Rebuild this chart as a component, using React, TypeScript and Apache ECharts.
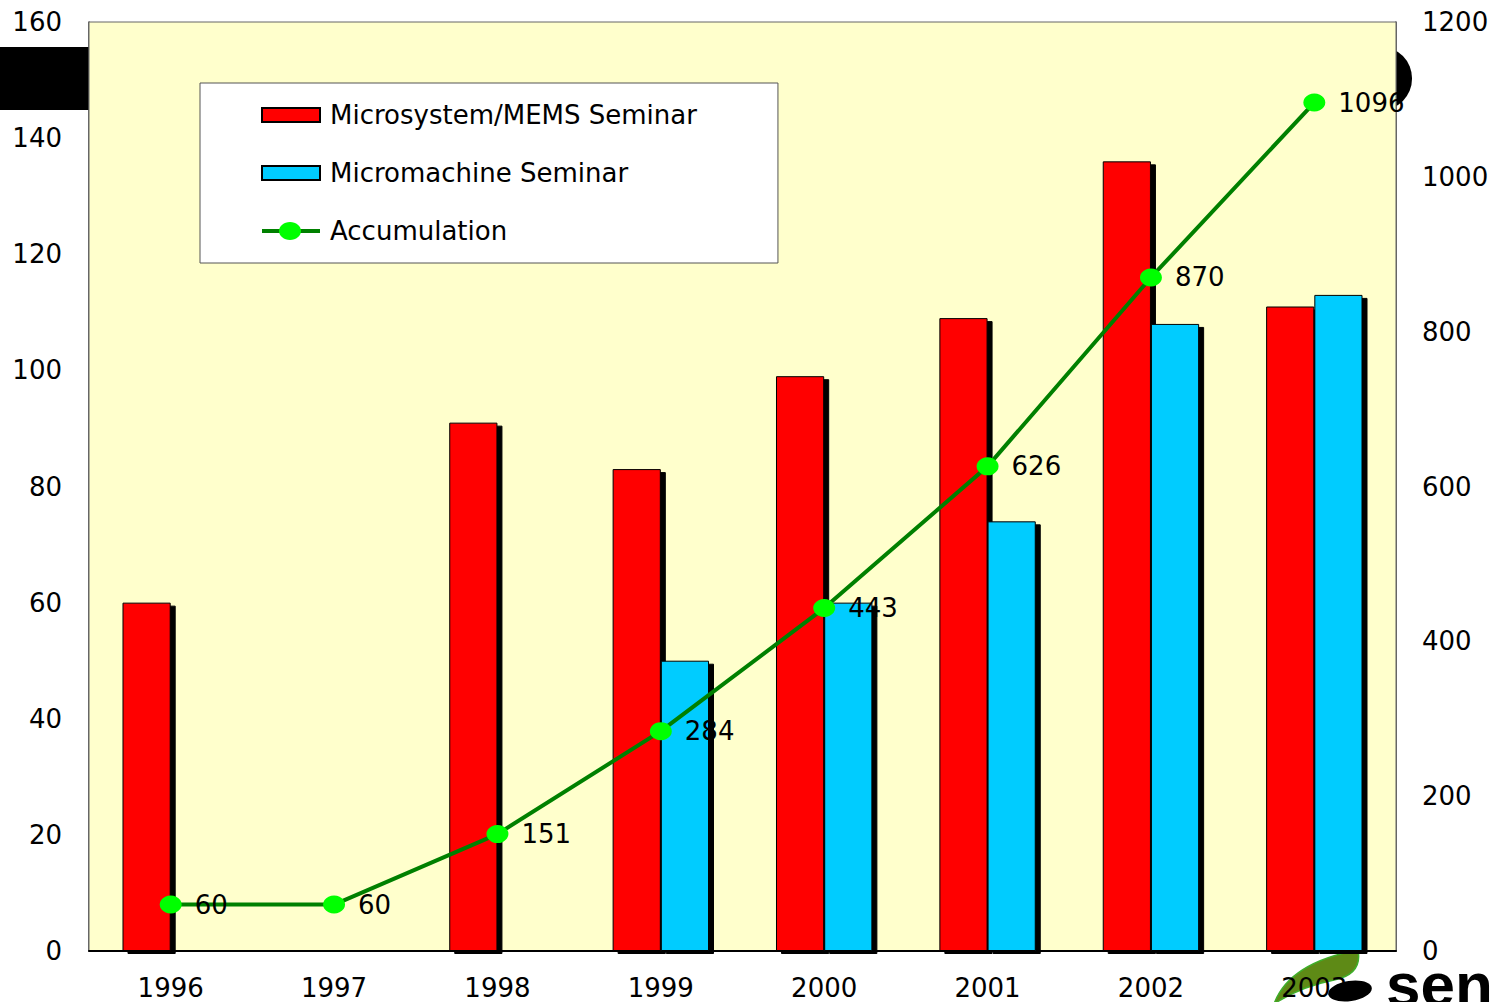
import React, { useEffect, useRef } from "react";
import * as echarts from "echarts";

const years = ["1996", "1997", "1998", "1999", "2000", "2001", "2002", "2003"];
const memsSeminar = [60, null, 91, 83, 99, 109, 136, 111];
const micromachineSeminar = [null, null, null, 50, 60, 74, 108, 113];
const accumulation = [60, 60, 151, 284, 443, 626, 870, 1096];

const seriesNames = ["Microsystem/MEMS Seminar", "Micromachine Seminar", "Accumulation"];

echarts.graphic.registerShape(
  "swoosh",
  echarts.graphic.extendPath(
    "M0,54 C8,32 30,10 84,0 C87,16 80,26 60,30 C40,34 18,42 0,54 Z",
    {}
  )
);

const FONT = "DejaVu Sans, sans-serif";
const FS = 26;

export default function App() {
  const ref = useRef<HTMLDivElement>(null);
  useEffect(() => {
    if (!ref.current) return;
    const chart = echarts.init(ref.current, null, { renderer: "svg" });
    const barStyle = (color: string) => ({
      color,
      borderColor: "#000",
      borderWidth: 1,
      shadowColor: "#000",
      shadowBlur: 0,
      shadowOffsetX: 5,
      shadowOffsetY: 3,
    });
    chart.setOption({
      animation: false,
      backgroundColor: "#ffffff",
      textStyle: { fontFamily: FONT },
      grid: {
        left: 89,
        right: 101,
        top: 22,
        bottom: 51,
        show: true,
        backgroundColor: "#FFFFCC",
        borderColor: "#666",
        borderWidth: 1,
        z: 2,
      },
      legend: {
        orient: "vertical",
        left: 200,
        top: 83,
        padding: [19, 81, 19, 60],
        backgroundColor: "#ffffff",
        borderColor: "#555",
        borderWidth: 1,
        itemWidth: 58,
        itemHeight: 14,
        itemGap: 32,
        data: [
          { name: seriesNames[0], icon: "rect" },
          { name: seriesNames[1], icon: "rect" },
          {
            name: seriesNames[2],
            lineStyle: { width: 4, color: "#008000" },
            itemStyle: { color: "#00FF00" },
          },
        ],
        textStyle: {
          fontSize: FS,
          color: "#000",
          fontFamily: FONT,
          padding: [0, 0, 0, 5],
        },
      },
      xAxis: {
        type: "category",
        data: years,
        axisLine: { lineStyle: { color: "#000", width: 2 } },
        axisTick: { inside: true, length: 8, alignWithLabel: false, lineStyle: { color: "#444" } },
        axisLabel: { fontSize: FS, color: "#000", margin: 24, fontFamily: FONT },
        z: 3,
      },
      yAxis: [
        {
          type: "value",
          min: 0,
          max: 160,
          interval: 20,
          axisLine: { show: true, lineStyle: { color: "#333", width: 1.5 } },
          axisTick: { show: true, inside: true, length: 10, lineStyle: { color: "#333" } },
          splitLine: { show: false },
          axisLabel: { fontSize: FS, color: "#000", margin: 27, fontFamily: FONT },
        },
        {
          type: "value",
          min: 0,
          max: 1200,
          interval: 200,
          position: "right",
          axisLine: { show: true, lineStyle: { color: "#333", width: 1.5 } },
          axisTick: { show: true, inside: true, length: 10, lineStyle: { color: "#333" } },
          splitLine: { show: false },
          axisLabel: {
            fontSize: FS,
            color: "#000",
            margin: 26,
            fontFamily: FONT,
            formatter: (v: number) => String(v),
          },
        },
      ],
      series: [
        {
          name: seriesNames[0],
          type: "bar",
          data: memsSeminar,
          barGap: "0%",
          barCategoryGap: "41%",
          itemStyle: barStyle("#FF0000"),
          z: 3,
        },
        {
          name: seriesNames[1],
          type: "bar",
          data: micromachineSeminar,
          barGap: "0%",
          barCategoryGap: "41%",
          itemStyle: barStyle("#00CCFF"),
          z: 3,
        },
        {
          name: seriesNames[2],
          type: "line",
          yAxisIndex: 1,
          data: accumulation,
          smooth: false,
          symbol: "circle",
          symbolSize: [22, 18],
          lineStyle: { color: "#008000", width: 4 },
          itemStyle: { color: "#00FF00", borderWidth: 0 },
          label: {
            show: true,
            position: "right",
            distance: 13,
            fontSize: FS,
            color: "#000",
            fontFamily: FONT,
          },
          z: 5,
        },
      ],
      graphic: [
        {
          type: "rect",
          z: -1,
          shape: { x: 0, y: 47, width: 1412, height: 63, r: [0, 31, 31, 0] },
          style: { fill: "#000" },
        },
        {
          type: "ellipse",
          z: 100,
          shape: { cx: 290, cy: 231, rx: 11, ry: 9 },
          style: { fill: "#00FF00" },
        },
        {
          type: "swoosh",
          x: 1274,
          y: 950,
          z: -1,
          style: { fill: "#5E8A16", stroke: "#3FAE2A", lineWidth: 1.5 },
        },
        {
          type: "ellipse",
          z: 101,
          x: 1350,
          y: 991,
          rotation: 0.15,
          shape: { cx: 0, cy: 0, rx: 22, ry: 10 },
          style: { fill: "#000" },
        },
        {
          type: "text",
          z: 101,
          x: 1386,
          y: 953,
          style: {
            text: "sen",
            fill: "#000",
            font: "bold 62px Liberation Sans, Arial, sans-serif",
            verticalAlign: "top",
          },
        },
      ],
    });
    return () => chart.dispose();
  }, []);
  return (
    <div
      ref={ref}
      style={{ position: "fixed", left: 0, top: 0, width: 1497, height: 1002 }}
    />
  );
}
